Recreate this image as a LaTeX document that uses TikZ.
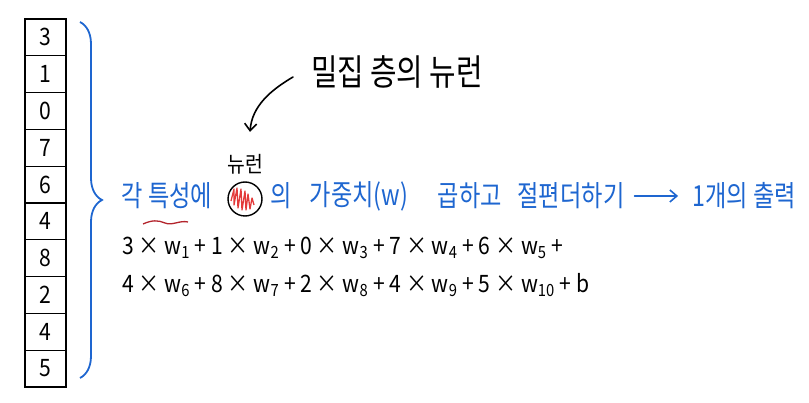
\documentclass[tikz,border=0pt]{standalone}
\usepackage{fontspec}
\setmainfont{Noto Sans CJK KR}
\newfontfamily\handfont[FakeStretch=0.88]{Noto Sans CJK KR}
\newfontfamily\handnarrow[FakeStretch=0.8]{Noto Sans CJK KR}
\usepackage{tikz}
\usetikzlibrary{arrows.meta, decorations.pathreplacing, calc, positioning}
\definecolor{handblue}{HTML}{1E66D0}
\definecolor{scribred}{HTML}{E33A3A}
\definecolor{linered}{HTML}{B3242C}
\newcommand{\wsub}[1]{w\textsubscript{#1}}

\begin{document}
\begin{tikzpicture}[x=1pt,y=-1pt,
    cell/.style={draw,line width=1.3pt,minimum width=41pt,minimum height=36.8pt,inner sep=0,
      font=\handfont\fontsize{24}{24}\selectfont},
    bluetxt/.style={handblue,inner sep=0,font=\handnarrow\fontsize{29}{29}\selectfont},
    blktxt/.style={black,inner sep=0,font=\handfont\fontsize{24}{24}\selectfont},
    handarrow/.style={-{Straight Barb[length=7pt,width=12pt]},line width=1.6pt,line cap=round}]
  \useasboundingbox (0,0) rectangle (809,403);

  % input column
  \foreach \v [count=\i] in {3,1,0,7,6,4,8,2,4,5}
    \node[cell] (c\i) at (45.5,{19+36.8*(\i-0.5)}) {\v};
  \draw[handblue,line width=1.8pt,decorate,decoration={brace,amplitude=22pt}] (80,22) -- (80,378);

  % sentence
  \node[bluetxt] (feat) at (167,196) {각 특성에};
  \node[draw,circle,line width=1.4pt,minimum size=34pt,inner sep=0] (neuron) at (245,199) {};
  \node[black,inner sep=0,font=\handfont\fontsize{22}{22}\selectfont] (nlabel) at (245,164) {뉴런};
  \node[bluetxt] (ui) at (281,196) {의};
  \node[bluetxt] (weight) at (359,196) {가중치(w)};
  \node[bluetxt] (mult) at (470,196) {곱하고};
  \node[bluetxt] (bias) at (571,196) {절편더하기};
  \node[bluetxt] (out) at (744,196) {1개의 출력};
  \draw[handarrow,handblue,shorten <=10pt,shorten >=14pt] (bias.east) -- (out.west);

  \draw[scribred,line width=1.3pt,line join=round,shift={(neuron)}]
    (-14,2) -- (-11,-10) -- (-11,6) -- (-8,-11) -- (-7,9) -- (-4,-10) -- (-3,11)
    -- (0,-8) -- (1,11) -- (3,-5) -- (5,10) -- (7,-1) -- (9,6);
  \draw[linered,line width=1.3pt]
    (143,224) .. controls (152,220) and (158,220) .. (165,223)
    .. controls (172,226) and (180,220) .. (188,222);

  % label with arrow
  \node[black,inner sep=0,font=\handnarrow\fontsize{36}{36}\selectfont] (dense) at (397,72) {밀집 층의 뉴런};
  \draw[handarrow] (293,77) .. controls +(-22,13) and +(2,-26) .. ($(nlabel.north)+(5,-22)$);

  % weighted sum
  \node[blktxt,anchor=west] (eqa) at (122,248)
    {3 × \wsub{1} + 1 × \wsub{2} + 0 × \wsub{3} + 7 × \wsub{4} + 6 × \wsub{5} +};
  \node[blktxt,anchor=west] (eqb) at (122,285)
    {4 × \wsub{6} + 8 × \wsub{7} + 2 × \wsub{8} + 4 × \wsub{9} + 5 × \wsub{10} + b};
\end{tikzpicture}
\end{document}
